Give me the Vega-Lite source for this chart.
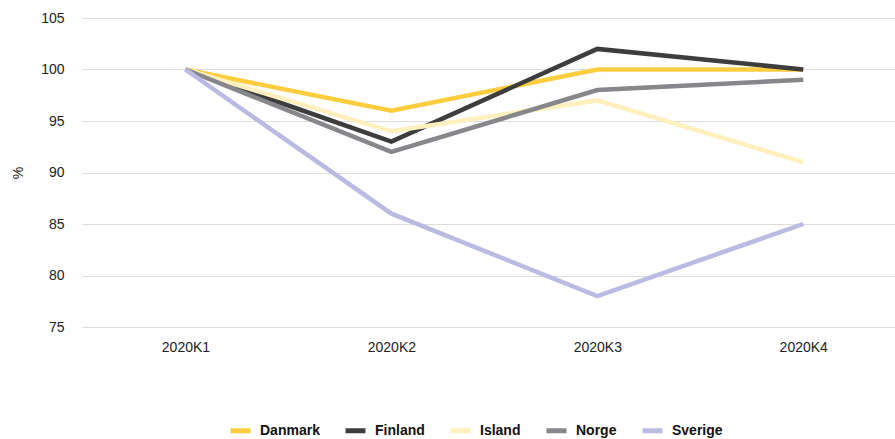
{
  "$schema": "https://vega.github.io/schema/vega-lite/v6.json",
  "width": 813,
  "height": 309,
  "autosize": {"type": "none"},
  "padding": {"left": 82, "top": 18, "right": 0, "bottom": 112},
  "background": "white",
  "config": {
    "view": {"stroke": null},
    "font": "Liberation Sans"
  },
  "data": {
    "values": [
      {"land": "Danmark", "kvartal": "2020K1", "value": 100},
      {"land": "Danmark", "kvartal": "2020K2", "value": 96},
      {"land": "Danmark", "kvartal": "2020K3", "value": 100},
      {"land": "Danmark", "kvartal": "2020K4", "value": 100},
      {"land": "Finland", "kvartal": "2020K1", "value": 100},
      {"land": "Finland", "kvartal": "2020K2", "value": 93},
      {"land": "Finland", "kvartal": "2020K3", "value": 102},
      {"land": "Finland", "kvartal": "2020K4", "value": 100},
      {"land": "Island", "kvartal": "2020K1", "value": 100},
      {"land": "Island", "kvartal": "2020K2", "value": 94},
      {"land": "Island", "kvartal": "2020K3", "value": 97},
      {"land": "Island", "kvartal": "2020K4", "value": 91},
      {"land": "Norge", "kvartal": "2020K1", "value": 100},
      {"land": "Norge", "kvartal": "2020K2", "value": 92},
      {"land": "Norge", "kvartal": "2020K3", "value": 98},
      {"land": "Norge", "kvartal": "2020K4", "value": 99},
      {"land": "Sverige", "kvartal": "2020K1", "value": 100},
      {"land": "Sverige", "kvartal": "2020K2", "value": 86},
      {"land": "Sverige", "kvartal": "2020K3", "value": 78},
      {"land": "Sverige", "kvartal": "2020K4", "value": 85}
    ]
  },
  "mark": {"type": "line", "strokeWidth": 4.5, "strokeJoin": "miter"},
  "encoding": {
    "x": {
      "field": "kvartal",
      "type": "ordinal",
      "scale": {"type": "point", "padding": 0.474, "align": 0.53},
      "axis": {
        "title": null,
        "labelAngle": 0,
        "domain": false,
        "ticks": false,
        "grid": false,
        "labelFontSize": 14,
        "labelColor": "#222222",
        "labelPadding": 13
      }
    },
    "y": {
      "field": "value",
      "type": "quantitative",
      "scale": {"domain": [75, 105], "nice": false, "zero": false},
      "axis": {
        "title": "%",
        "titleFontWeight": "normal",
        "titleFontSize": 14,
        "titleColor": "#222222",
        "titlePadding": 15,
        "values": [75, 80, 85, 90, 95, 100, 105],
        "domain": false,
        "ticks": false,
        "labelFontSize": 14,
        "labelColor": "#222222",
        "labelPadding": 18,
        "gridColor": "#dddddd",
        "gridWidth": 1
      }
    },
    "color": {
      "field": "land",
      "type": "nominal",
      "scale": {
        "domain": ["Danmark", "Finland", "Island", "Norge", "Sverige"],
        "range": ["#fdcd40", "#3d3d3d", "#fff0bd", "#87878b", "#babae2"]
      },
      "legend": {
        "title": null,
        "orient": "none",
        "legendX": 146,
        "legendY": 400,
        "direction": "horizontal",
        "symbolType": "stroke",
        "symbolStrokeWidth": 5,
        "symbolSize": 400,
        "labelFontSize": 14,
        "labelFontWeight": "bold",
        "labelColor": "#111111",
        "labelOffset": 7,
        "columnPadding": 15
      }
    },
    "order": {"field": "land"}
  }
}
